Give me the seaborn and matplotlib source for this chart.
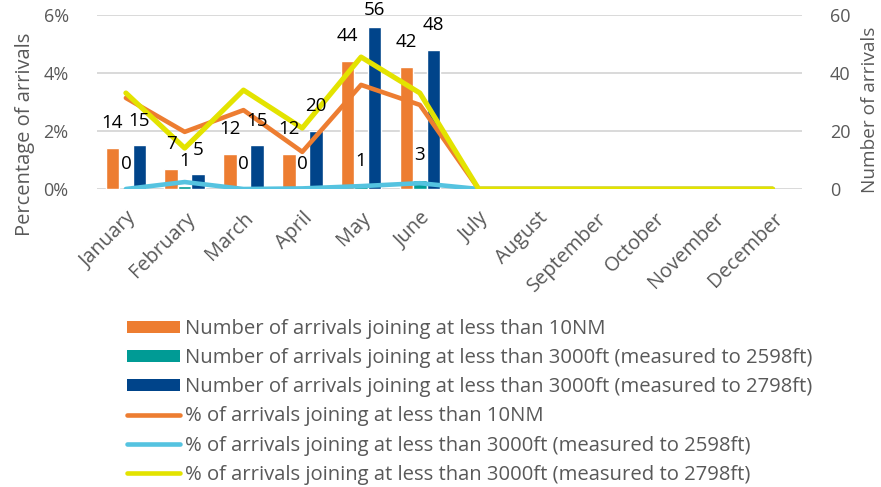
import numpy as np
import pandas as pd
import matplotlib
matplotlib.use("Agg")
import matplotlib.pyplot as plt
from matplotlib import font_manager
from matplotlib.patches import Patch
from matplotlib.lines import Line2D
import seaborn as sns

months = ["January", "February", "March", "April", "May", "June", "July",
          "August", "September", "October", "November", "December"]

# Monthly counts (right axis); blank months have no bars
count_10nm = [14, 7, 12, 12, 44, 42, None, None, None, None, None, None]
count_2598 = [0, 1, 0, 0, 1, 3, None, None, None, None, None, None]
count_2798 = [15, 5, 15, 20, 56, 48, None, None, None, None, None, None]

# Monthly percentages (left axis)
pct_10nm = [3.14, 1.97, 2.72, 1.28, 3.59, 2.90, 0, 0, 0, 0, 0, 0]
pct_2598 = [0.0, 0.24, 0.0, 0.02, 0.10, 0.20, 0, 0, 0, 0, 0, 0]
pct_2798 = [3.31, 1.41, 3.41, 2.10, 4.55, 3.31, 0, 0, 0, 0, 0, 0]

bar_names = ["Number of arrivals joining at less than 10NM",
             "Number of arrivals joining at less than 3000ft (measured to 2598ft)",
             "Number of arrivals joining at less than 3000ft (measured to 2798ft)"]
line_names = ["% of arrivals joining at less than 10NM",
              "% of arrivals joining at less than 3000ft (measured to 2598ft)",
              "% of arrivals joining at less than 3000ft (measured to 2798ft)"]
bar_colors = ["#ED7D31", "#009B95", "#00448A"]
line_colors = ["#ED7D31", "#55C3E0", "#E3E300"]

sns.set_theme(style="white")
installed = {f.name for f in font_manager.fontManager.ttflist}
main_font = "Open Sans" if "Open Sans" in installed else "DejaVu Sans"
plt.rcParams["font.family"] = [main_font, "DejaVu Sans"]
grey = "#595959"

bars_df = pd.DataFrame({
    "month": np.tile(months, 3),
    "series": np.repeat(bar_names, len(months)),
    "count": np.array(count_10nm + count_2598 + count_2798, dtype=float),
})
lines_df = pd.DataFrame({
    "month": pd.Categorical(np.tile(months, 3), categories=months, ordered=True),
    "series": np.repeat(line_names, len(months)),
    "pct": np.array(pct_10nm + pct_2598 + pct_2798, dtype=float),
})
lines_df["pos"] = lines_df["month"].cat.codes

fig = plt.figure(figsize=(8.81, 4.87), dpi=100)
ax = fig.add_axes([96.5 / 881, 1 - 189 / 487, (802 - 96.5) / 881, 174 / 487])

# Counts as grouped bars, scale on the right
sns.barplot(data=bars_df, x="month", y="count", hue="series", order=months,
            hue_order=bar_names, palette=bar_colors, width=0.69, gap=0,
            saturation=1, ax=ax, legend=False)
ax.set_xlabel("")
ax.set_xlim(-0.5, 11.5)
for s in ax.spines.values():
    s.set_visible(False)

# Percentages as lines, scale on the left
ax2 = ax.twinx()
sns.lineplot(data=lines_df, x="pos", y="pct", hue="series", hue_order=line_names,
             palette=line_colors, ax=ax2, legend=False, sort=False)
for ln, lw in zip(ax2.get_lines(), [3.3, 3.3, 3.7]):
    ln.set_linewidth(lw)
    ln.set_solid_capstyle("round")
for s in ax2.spines.values():
    s.set_visible(False)

# Right-hand count scale
ax.set_ylim(0, 60)
ax.yaxis.tick_right()
ax.yaxis.set_label_position("right")
ax.set_yticks([0, 20, 40, 60])
ax.set_ylabel("Number of arrivals", color=grey, fontsize=13.7)
ax.yaxis.set_label_coords(1.083, 0.455)
ax.tick_params(axis="y", colors=grey, labelsize=13, length=0, pad=20,
               left=False, labelleft=False, right=False, labelright=True)
ax.tick_params(axis="x", colors=grey, labelsize=14.4, length=0, pad=14)
for lab in ax.get_xticklabels():
    lab.set_rotation(45)
    lab.set_ha("right")
    lab.set_rotation_mode("anchor")
ax.grid(axis="y", color="#D9D9D9", linewidth=1.4)
ax.set_axisbelow(True)

# Left-hand percentage scale
ax2.set_ylim(0, 6)
ax2.set_xlim(-0.5, 11.5)
ax2.yaxis.tick_left()
ax2.yaxis.set_label_position("left")
ax2.set_yticks([0, 2, 4, 6])
ax2.set_yticklabels([f"{v}%" for v in [0, 2, 4, 6]])
ax2.set_ylabel("Percentage of arrivals", color=grey, fontsize=14.5)
ax2.yaxis.set_label_coords(-0.087, 0.315)
ax2.set_xlabel("")
ax2.tick_params(axis="y", colors=grey, labelsize=13, length=0, pad=20,
                right=False, labelright=False, left=False, labelleft=True)
ax2.tick_params(axis="x", length=0, labelbottom=False)
ax2.grid(False)
ax.set_zorder(0)
ax2.set_zorder(1)
ax2.patch.set_visible(False)

# Value labels above each bar
n_hue = len(bar_names)
bw = 0.69 / n_hue
for h, vals in enumerate([count_10nm, count_2598, count_2798]):
    for i, v in enumerate(vals):
        if v is None:
            continue
        x = i - 0.69 / 2 + bw * (h + 0.5)
        y = min(v + 8.6, 61.8)
        ax2.text(x, y, f"{v}", transform=ax.transData, ha="center", va="center",
                 fontsize=13.5, color="black", zorder=5)

handles = [Patch(facecolor=c, edgecolor="none") for c in bar_colors] + \
          [Line2D([0], [0], color=c, linewidth=3.3, solid_capstyle="round")
           for c in line_colors]
fig.legend(handles, bar_names + line_names, loc="upper left",
           bbox_to_anchor=(127 / 881, 1 - 319 / 487), frameon=False,
           prop={"size": 14.6}, labelcolor=grey, handlelength=2.6,
           handleheight=0.5, handletextpad=0.25, labelspacing=0.45,
           borderaxespad=0, borderpad=0)

fig.savefig("out.png", dpi=100)
